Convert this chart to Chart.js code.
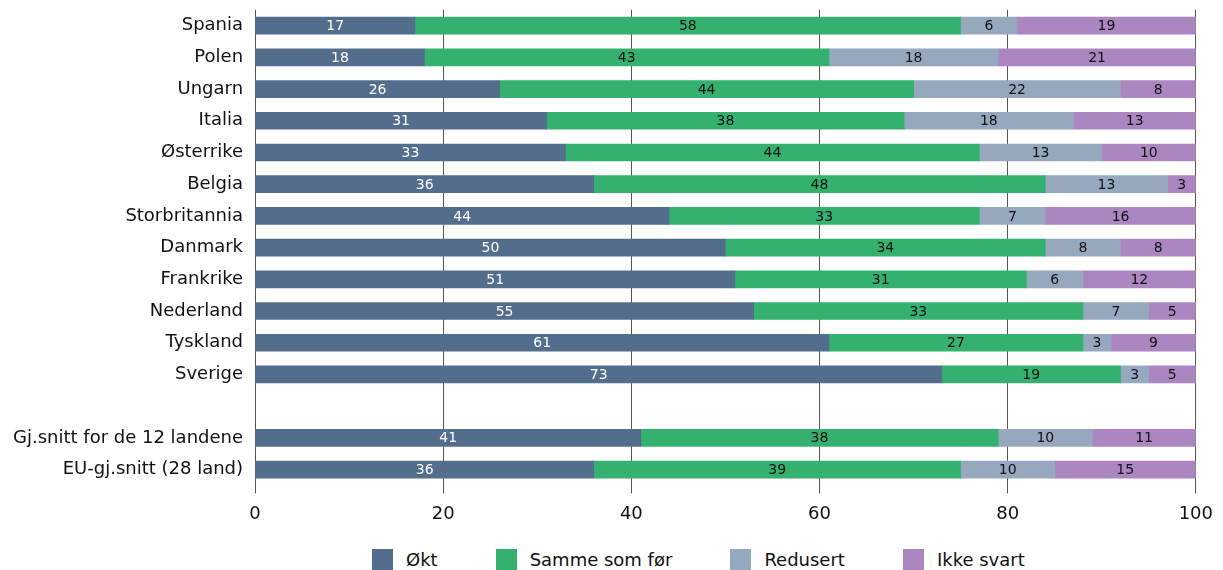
<!DOCTYPE html>
<html lang="no">
<head>
<meta charset="utf-8">
<title>Endring etter land</title>
<script src="https://cdn.jsdelivr.net/npm/chart.js@4.4.1/dist/chart.umd.min.js"></script>
<style>
  body { margin: 0; background: #fff; font-family: "DejaVu Sans", sans-serif; }
  #wrap { position: relative; width: 1223px; height: 548px; margin-top: -13px; }
  #legend { display: flex; align-items: center; margin-left: 372px; margin-top: 14px; height: 21px; }
  .item { display: flex; align-items: center; margin-right: 58px; font-size: 18px; color: #111; }
  .box { width: 21px; height: 21px; margin-right: 13px; }
</style>
</head>
<body>
<div id="wrap"><canvas id="chart"></canvas></div>
<div id="legend"></div>
<script>
"use strict";

const land = [
  "Spania", "Polen", "Ungarn", "Italia", "Østerrike", "Belgia",
  "Storbritannia", "Danmark", "Frankrike", "Nederland", "Tyskland",
  "Sverige", "", "Gj.snitt for de 12 landene", "EU-gj.snitt (28 land)",
];

// bar lengths as drawn in the original
const okt = [17, 18, 26, 31, 33, 36, 44, 50, 51, 53, 61, 73, null, 41, 36];
const sammeSomFor = [58, 43, 44, 38, 44, 48, 33, 34, 31, 35, 27, 19, null, 38, 39];
const redusert = [6, 18, 22, 18, 13, 13, 7, 8, 6, 7, 3, 3, null, 10, 10];
const ikkeSvart = [19, 21, 8, 13, 10, 3, 16, 8, 12, 5, 9, 5, null, 11, 15];

// printed numbers (Nederland is labelled 55 / 33 in the source)
const oktTekst = [17, 18, 26, 31, 33, 36, 44, 50, 51, 55, 61, 73, null, 41, 36];
const sammeTekst = [58, 43, 44, 38, 44, 48, 33, 34, 31, 33, 27, 19, null, 38, 39];

const xTicks = [0, 20, 40, 60, 80, 100];

Chart.defaults.font.family = "'DejaVu Sans', sans-serif";
Chart.defaults.color = "#111";

const serier = [
  { label: "Økt", data: okt, tekst: oktTekst, color: "#536e8c", textColor: "#fff" },
  { label: "Samme som før", data: sammeSomFor, tekst: sammeTekst, color: "#35b16f", textColor: "#111" },
  { label: "Redusert", data: redusert, tekst: redusert, color: "#96a8bd", textColor: "#111" },
  { label: "Ikke svart", data: ikkeSvart, tekst: ikkeSvart, color: "#ab86c1", textColor: "#111" },
];

// draws the number in the middle of each segment
const barLabels = {
  id: "barLabels",
  afterDatasetsDraw(chart) {
    const ctx = chart.ctx;
    ctx.save();
    ctx.font = "14px 'DejaVu Sans', sans-serif";
    ctx.textAlign = "center";
    ctx.textBaseline = "middle";
    chart.data.datasets.forEach((ds, i) => {
      const meta = chart.getDatasetMeta(i);
      meta.data.forEach((bar, j) => {
        const txt = ds.tekst[j];
        if (txt === null || txt === undefined) return;
        const p = bar.getProps(["x", "y", "base"], true);
        ctx.fillStyle = ds.textColor;
        ctx.fillText(String(txt), (p.x + p.base) / 2, p.y + 1);
      });
    });
    ctx.restore();
  },
};

new Chart(document.getElementById("chart"), {
  type: "bar",
  data: {
    labels: land,
    datasets: serier.map((s) => ({
      label: s.label,
      data: s.data,
      tekst: s.tekst,
      textColor: s.textColor,
      backgroundColor: s.color,
      borderWidth: 0,
      barThickness: 17,
    })),
  },
  options: {
    indexAxis: "y",
    responsive: true,
    maintainAspectRatio: false,
    animation: false,
    layout: { padding: { left: 1, right: 22, top: 0, bottom: 0 } },
    plugins: {
      legend: { display: false },
      tooltip: { enabled: false },
    },
    scales: {
      x: {
        stacked: true,
        min: 0,
        max: 100,
        afterBuildTicks: (axis) => {
          axis.ticks = xTicks.map((v) => ({ value: v }));
        },
        grid: { color: "#555", lineWidth: 1, tickLength: 8 },
        border: { display: false },
        ticks: { font: { size: 18 }, padding: 10, color: "#111" },
      },
      y: {
        stacked: true,
        grid: { display: false, drawTicks: false, tickLength: 0 },
        border: { display: false },
        ticks: { font: { size: 18 }, padding: 12, color: "#111", autoSkip: false },
      },
    },
  },
  plugins: [barLabels],
});

const legend = document.getElementById("legend");
serier.forEach((s) => {
  const item = document.createElement("div");
  item.className = "item";
  const box = document.createElement("span");
  box.className = "box";
  box.style.background = s.color;
  item.appendChild(box);
  item.appendChild(document.createTextNode(s.label));
  legend.appendChild(item);
});
</script>
</body>
</html>
